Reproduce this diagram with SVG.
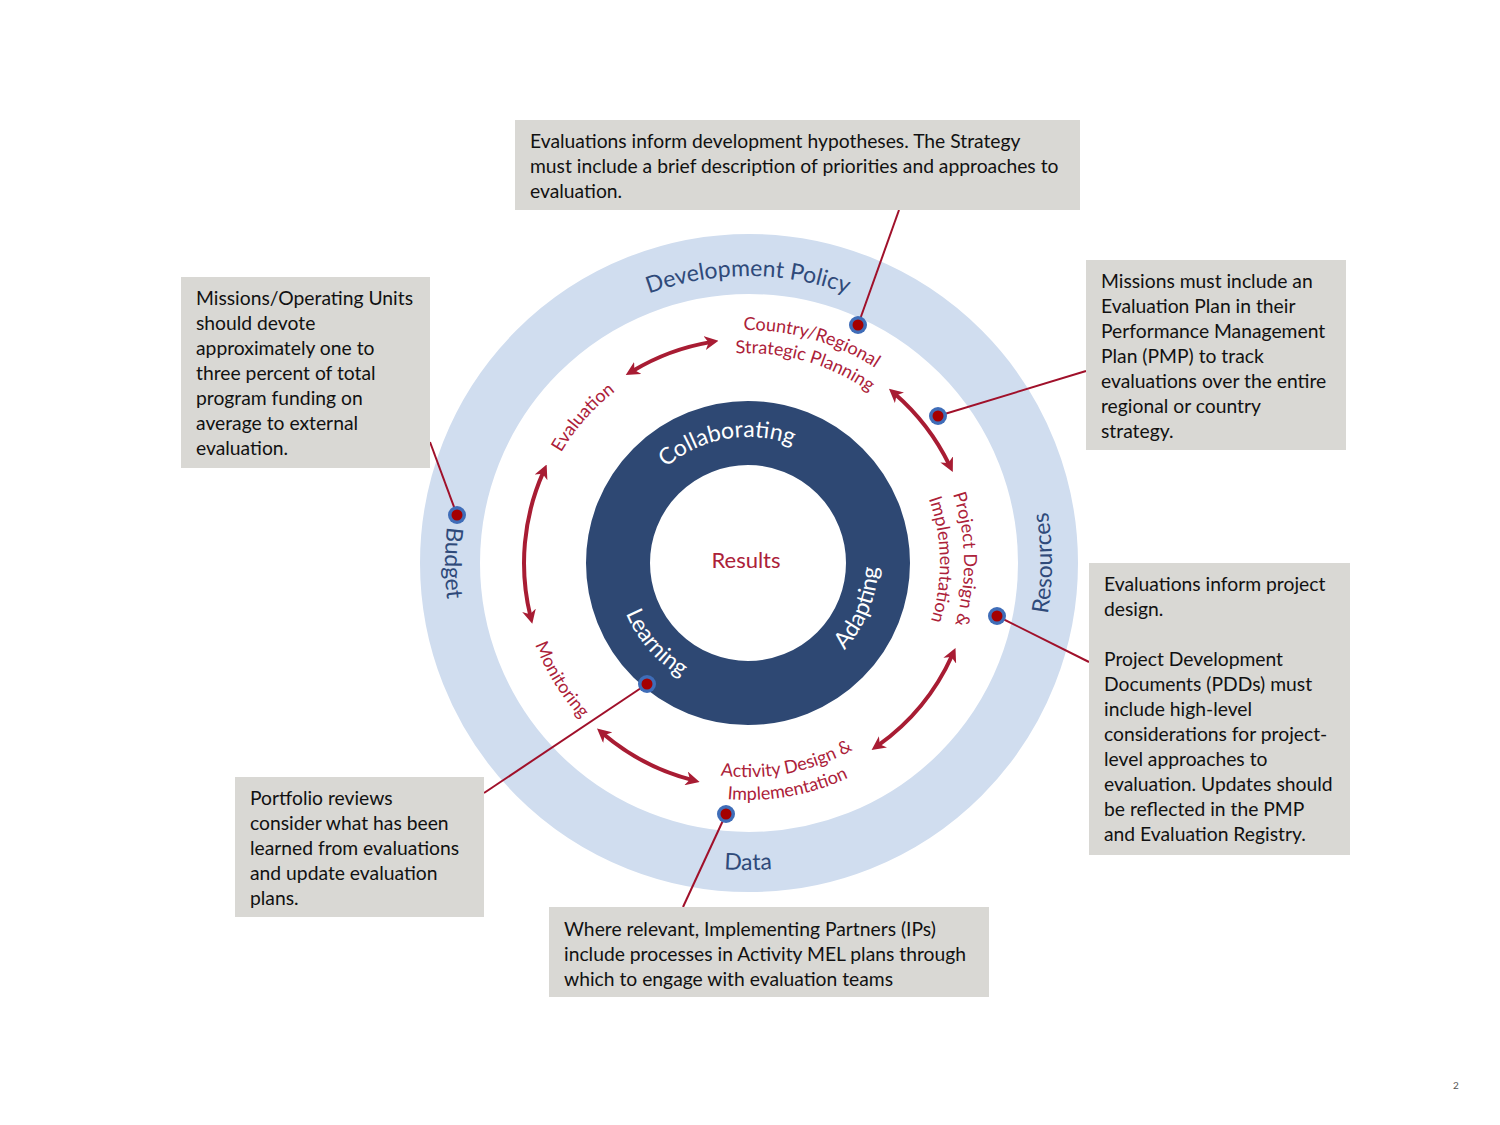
<svg xmlns="http://www.w3.org/2000/svg" width="1500" height="1125" viewBox="0 0 1500 1125">
<style>
  .box { fill: #D9D8D4; }
  .bt { font-family: Lato, "Open Sans", sans-serif; font-size: 19.3px; fill: #111111; }
  .ring { font-family: Lato, "Open Sans", sans-serif; font-size: 23px; fill: #2F4A7A; }
  .inner { font-family: Lato, "Open Sans", sans-serif; font-size: 23px; fill: #FFFFFF; }
  .lab { font-family: Lato, "Open Sans", sans-serif; font-size: 18px; fill: #AC2139; }
  .arr { fill: none; stroke: #A81C33; stroke-width: 4; marker-start: url(#ah); marker-end: url(#ah); }
  .conn { fill: none; stroke: #A0102A; stroke-width: 2; }
  .dot-o { fill: #3F6DB8; }
  .dot-i { fill: #A50000; }
</style>
<defs>
  <marker id="ah" viewBox="0 0 14 14" refX="6" refY="7" markerWidth="14" markerHeight="14" markerUnits="userSpaceOnUse" orient="auto-start-reverse">
    <path d="M0,0 L14,7 L0,14 L4,7 z" fill="#A81C33"/>
  </marker>
  <path id="pDev" d="M499.5,419.5 A287,287 0 0 1 996.5,419.5"/>
  <path id="pBud" d="M553.2,330.9 A303,303 0 0 0 553.2,795.1"/>
  <path id="pRes" d="M943.4,795.9 A304,304 0 0 0 943.4,330.1"/>
  <path id="pData" d="M512.8,760.3 A307,307 0 0 0 983.2,760.3"/>
  <path id="pCol" d="M622,563 A126,126 0 0 1 866.4,519.9"/>
  <path id="pAda" d="M721,690.2 A130,130 0 0 0 816.9,452.8"/>
  <path id="pLea" d="M645.4,479.9 A132,132 0 0 0 816,676.1"/>
  <path id="pEva" d="M578.4,698.4 A217,217 0 0 1 861.1,377.8"/>
  <path id="pCr1" d="M538.6,460.9 A233,233 0 0 1 979.7,587.4"/>
  <path id="pCr2" d="M559.3,470.9 A210,210 0 0 1 956.8,584.9"/>
  <path id="pPd1" d="M781.8,349.6 A216,216 0 0 1 789.2,775"/>
  <path id="pPd2" d="M778,373.4 A192,192 0 0 1 784.6,751.5"/>
  <path id="pAc1" d="M548.2,639.7 A214,214 0 0 0 962,559.3"/>
  <path id="pAc2" d="M525.3,644.1 A237,237 0 0 0 985,563"/>
  <path id="pMon" d="M595.4,393.6 A228,228 0 0 0 833.4,774.4"/>
</defs>
<rect width="1500" height="1125" fill="#FFFFFF"/>

<g id="outer-ring">
  <circle cx="749" cy="563" r="299" fill="none" stroke="#D0DDEF" stroke-width="60"/>
  <text class="ring" font-size="24"><textPath href="#pDev" startOffset="50%" text-anchor="middle">Development Policy</textPath></text>
  <text class="ring"><textPath href="#pBud" startOffset="50%" text-anchor="middle">Budget</textPath></text>
  <text class="ring"><textPath href="#pRes" startOffset="50%" text-anchor="middle">Resources</textPath></text>
  <text class="ring"><textPath href="#pData" startOffset="50%" text-anchor="middle">Data</textPath></text>
</g>

<g id="inner-ring">
  <circle cx="748" cy="563" r="130" fill="none" stroke="#2E4873" stroke-width="64"/>
  <text class="inner"><textPath href="#pCol" startOffset="50%" text-anchor="middle">Collaborating</textPath></text>
  <text class="inner"><textPath href="#pAda" startOffset="50%" text-anchor="middle">Adapting</textPath></text>
  <text class="inner"><textPath href="#pLea" startOffset="50%" text-anchor="middle">Learning</textPath></text>
</g>

<g id="results">
  <text x="746" y="568" text-anchor="middle" font-family="Lato, 'Open Sans', sans-serif" font-size="22" fill="#AC2139">Results</text>
</g>

<g id="cycle-labels">
  <text class="lab"><textPath href="#pCr1" startOffset="50%" text-anchor="middle">Country/Regional</textPath></text>
  <text class="lab"><textPath href="#pCr2" startOffset="50%" text-anchor="middle">Strategic Planning</textPath></text>
  <text class="lab"><textPath href="#pPd1" startOffset="50%" text-anchor="middle">Project Design &amp;</textPath></text>
  <text class="lab"><textPath href="#pPd2" startOffset="50%" text-anchor="middle">Implementation</textPath></text>
  <text class="lab"><textPath href="#pAc1" startOffset="50%" text-anchor="middle">Activity Design &amp;</textPath></text>
  <text class="lab"><textPath href="#pAc2" startOffset="50%" text-anchor="middle">Implementation</textPath></text>
  <text class="lab"><textPath href="#pMon" startOffset="50%" text-anchor="middle">Monitoring</textPath></text>
  <text class="lab"><textPath href="#pEva" startOffset="50%" text-anchor="middle">Evaluation</textPath></text>
</g>

<g id="cycle-arrows">
  <path class="arr" d="M632.6,371 A224,224 0 0 1 710.6,342.1"/>
  <path class="arr" d="M895,393.9 A224,224 0 0 1 949.3,464.8"/>
  <path class="arr" d="M952.2,655.2 A224,224 0 0 1 878.1,745.4"/>
  <path class="arr" d="M691.9,779.9 A224,224 0 0 1 603.1,733.8"/>
  <path class="arr" d="M530.4,616.1 A224,224 0 0 1 543.4,471.9"/>
</g>

<g id="connectors">
  <line class="conn" x1="899" y1="210" x2="858" y2="325"/>
  <line class="conn" x1="1086" y1="371" x2="938" y2="416"/>
  <line class="conn" x1="430" y1="442" x2="457" y2="515"/>
  <line class="conn" x1="1089" y1="662" x2="997" y2="616"/>
  <line class="conn" x1="484" y1="793" x2="647" y2="684"/>
  <line class="conn" x1="683" y1="907" x2="726" y2="814"/>
</g>

<g id="dots">
  <circle class="dot-o" cx="858" cy="325" r="9"/><circle class="dot-i" cx="858" cy="325" r="5.5"/>
  <circle class="dot-o" cx="938" cy="416" r="9"/><circle class="dot-i" cx="938" cy="416" r="5.5"/>
  <circle class="dot-o" cx="457" cy="515" r="9"/><circle class="dot-i" cx="457" cy="515" r="5.5"/>
  <circle class="dot-o" cx="997" cy="616" r="9"/><circle class="dot-i" cx="997" cy="616" r="5.5"/>
  <circle class="dot-o" cx="647" cy="684" r="9"/><circle class="dot-i" cx="647" cy="684" r="5.5"/>
  <circle class="dot-o" cx="726" cy="814" r="9"/><circle class="dot-i" cx="726" cy="814" r="5.5"/>
</g>

<g id="box-strategy">
  <rect class="box" x="515" y="120" width="565" height="90"/>
  <text class="bt"><tspan x="530" y="148">Evaluations inform development hypotheses. The Strategy</tspan><tspan x="530" y="173">must include a brief description of priorities and approaches to</tspan><tspan x="530" y="198">evaluation.</tspan></text>
</g>

<g id="box-budget">
  <rect class="box" x="181" y="277" width="249" height="191"/>
  <text class="bt"><tspan x="196" y="305">Missions/Operating Units</tspan><tspan x="196" y="330">should devote</tspan><tspan x="196" y="355">approximately one to</tspan><tspan x="196" y="380">three percent of total</tspan><tspan x="196" y="405">program funding on</tspan><tspan x="196" y="430">average to external</tspan><tspan x="196" y="455">evaluation.</tspan></text>
</g>

<g id="box-pmp">
  <rect class="box" x="1086" y="260" width="260" height="190"/>
  <text class="bt"><tspan x="1101" y="288">Missions must include an</tspan><tspan x="1101" y="313">Evaluation Plan in their</tspan><tspan x="1101" y="338">Performance Management</tspan><tspan x="1101" y="363">Plan (PMP) to track</tspan><tspan x="1101" y="388">evaluations over the entire</tspan><tspan x="1101" y="413">regional or country</tspan><tspan x="1101" y="438">strategy.</tspan></text>
</g>

<g id="box-project">
  <rect class="box" x="1089" y="563" width="261" height="292"/>
  <text class="bt"><tspan x="1104" y="591">Evaluations inform project</tspan><tspan x="1104" y="616">design.</tspan><tspan x="1104" y="666">Project Development</tspan><tspan x="1104" y="691">Documents (PDDs) must</tspan><tspan x="1104" y="716">include high-level</tspan><tspan x="1104" y="741">considerations for project-</tspan><tspan x="1104" y="766">level approaches to</tspan><tspan x="1104" y="791">evaluation. Updates should</tspan><tspan x="1104" y="816">be reflected in the PMP</tspan><tspan x="1104" y="841">and Evaluation Registry.</tspan></text>
</g>

<g id="box-portfolio">
  <rect class="box" x="235" y="777" width="249" height="140"/>
  <text class="bt"><tspan x="250" y="805">Portfolio reviews</tspan><tspan x="250" y="830">consider what has been</tspan><tspan x="250" y="855">learned from evaluations</tspan><tspan x="250" y="880">and update evaluation</tspan><tspan x="250" y="905">plans.</tspan></text>
</g>

<g id="box-activity">
  <rect class="box" x="549" y="907" width="440" height="90"/>
  <text class="bt"><tspan x="564" y="936">Where relevant, Implementing Partners (IPs)</tspan><tspan x="564" y="961">include processes in Activity MEL plans through</tspan><tspan x="564" y="986">which to engage with evaluation teams</tspan></text>
</g>

<text x="1456" y="1089" text-anchor="middle" font-family="Lato, 'Open Sans', sans-serif" font-size="10" fill="#555555">2</text>
</svg>
